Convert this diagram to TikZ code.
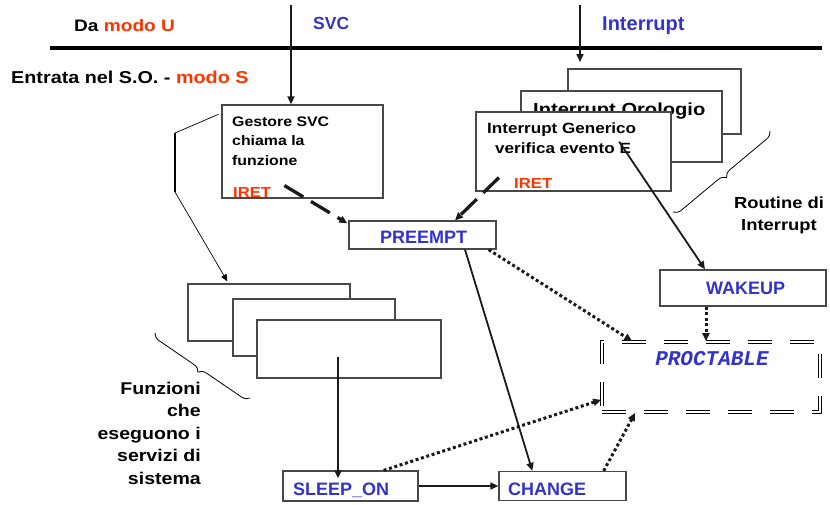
\documentclass[tikz,border=0pt]{standalone}
\usepackage{fontspec}
\setmainfont{Liberation Sans}
\newfontfamily\widesf[FakeStretch=1.15]{Liberation Sans}
\newfontfamily\codett{Liberation Mono}
\usetikzlibrary{arrows.meta,calc,decorations.pathreplacing}
\definecolor{sysblue}{HTML}{3333CC}
\definecolor{sysred}{HTML}{FF3300}
\definecolor{sysink}{HTML}{1A1A1A}
\tikzset{
  bx/.style={draw=sysink!80, line width=1.3pt, fill=white, inner sep=0pt},
  wt/.style={font=\widesf\bfseries\fontsize{#1}{#1}\selectfont, inner sep=0pt, anchor=base west},
  blt/.style={font=\bfseries\fontsize{#1}{#1}\selectfont, text=sysblue, inner sep=0pt, anchor=base west},
  blt/.default=18,
  arr/.style={-{Triangle[length=8pt,width=7pt]}, line width=1.8pt, color=sysink},
  dsh/.style={arr, line width=3.3pt, dash pattern=on 22pt off 9pt},
  dot/.style={arr, line width=3pt, dash pattern=on 3pt off 2.6pt},
  brc/.style={decorate, decoration={brace, amplitude=8pt, mirror}, line width=0.8pt},
  ptab/.style={draw, line width=1.7pt, double, double distance=1.2pt, dash pattern=on 24pt off 18pt, inner sep=0pt},
}
\begin{document}
\begin{tikzpicture}[x=1pt, y=-1pt]
  \useasboundingbox (0,0) rectangle (830,504);
  % user / system boundary
  \coordinate (ml) at (50,48);
  \coordinate (mr) at (822,48);
  \draw[line width=4.5pt] (ml) -- (mr);
  \node[wt=16.6] (damodo) at (74,31.5) {Da \textcolor{sysred}{modo U}};
  \node[blt=17.5] (svc) at (313,29.3) {SVC};
  \node[blt=20] (intr) at (602,30) {Interrupt};
  \node[wt=17.2] (entrata) at (11,83.3) {Entrata nel S.O. - \textcolor{sysred}{modo S}};

  % SVC handler
  \node[bx, minimum width=161pt, minimum height=93pt] (gest) at (302.5,151.5) {};
  \node[wt=13.8] (gest1) at (232,126) {Gestore SVC};
  \node[wt=13.8] (gest2) at (232,145.7) {chiama la};
  \node[wt=13.8] (gest3) at (232,165.7) {funzione};
  \node[wt=14.5, text=sysred] (iret1) at (233,197) {IRET};

  % interrupt routines
  \node[bx, minimum width=173pt, minimum height=65pt] (intc) at (654.5,101.5) {};
  \node[bx, minimum width=201pt, minimum height=71pt] (intb) at (621.5,126.5) {};
  \node[wt=17.5] (orol) at (533,115) {Interrupt Orologio};
  \node[bx, minimum width=195pt, minimum height=79pt] (inta) at (573.5,151.5) {};
  \node[wt=14.85] (gener) at (487,133) {Interrupt Generico};
  \node[wt=14.85] (verif) at (495,153) {verifica evento E};
  \node[wt=14.5, text=sysred] (iret2) at (514,188) {IRET};

  % kernel routines
  \node[bx, minimum width=147pt, minimum height=28pt] (preempt) at (422.5,235) {};
  \node[blt] (preempt-t) at (380,243) {PREEMPT};
  \node[bx, minimum width=166pt, minimum height=36pt] (wakeup) at (743,288) {};
  \node[blt] (wakeup-t) at (706,294.5) {WAKEUP};
  \node[ptab, minimum width=218pt, minimum height=70pt] (proc) at (711,377) {};
  \node[font=\codett\bfseries\itshape\fontsize{21}{21}\selectfont, text=sysblue, inner sep=0pt, anchor=base] (proc-t) at (712,365) {PROCTABLE};

  % system functions
  \node[bx, minimum width=162pt, minimum height=57pt] (f1) at (269,312.5) {};
  \node[bx, minimum width=162pt, minimum height=57pt] (f2) at (314,327.5) {};
  \node[bx, minimum width=184pt, minimum height=58pt] (f3) at (349,349) {};
  \node[bx, minimum width=135pt, minimum height=30pt] (sleepon) at (350.5,486) {};
  \node[blt] (sleepon-t) at (293,495) {SLEEP\_ON};
  \node[bx, minimum width=127pt, minimum height=29pt] (change) at (562.5,486) {};
  \node[blt] (change-t) at (508,495) {CHANGE};

  % side notes
  \node[font=\widesf\bfseries\fontsize{16}{22}\selectfont, align=center, inner sep=0pt, anchor=north] (routine) at (779,196.5) {Routine di\\Interrupt};
  \node[font=\widesf\bfseries\fontsize{17}{22.5}\selectfont, align=right, inner sep=0pt, anchor=north east] (funz) at (201,381.5) {Funzioni\\che\\eseguono i\\servizi di\\sistema};
  \coordinate (rb1) at (673,212);
  \coordinate (rb2) at (770,131);
  \draw[brc] (rb1) -- (rb2);
  \coordinate (fb1) at (155,333);
  \coordinate (fb2) at (250,398);
  \draw[brc] (fb1) -- (fb2);

  % entries
  \coordinate (svct) at (291,5);
  \coordinate (intt) at (580,5);
  \coordinate (inte) at (580,62);
  \draw[arr] (svct) -- (svct |- gest.north);
  \draw[arr] (intt) -- (inte);

  % call of the function
  \coordinate (gb1) at (175,133);
  \coordinate (gb2) at (175,192);
  \draw[line width=0.7pt] ([shift={(-3,10)}]gest.north west) -- (gb1);
  \draw[line width=2.2pt] (gb1) -- (gb2);
  \draw[-{Triangle[length=7pt,width=6pt]}, line width=0.7pt] (gb2) -- ([shift={(40,-2)}]f1.north west);

  % returns
  \draw[dsh] ([shift={(13,-6.5)}]iret1.east) -- ([shift={(-1,3)}]preempt.north west);
  \draw[dsh] ([shift={(-15,-5.5)}]iret2.west) -- ([xshift=32.5pt]preempt.north);

  \draw[arr] ([shift={(-12,-6)}]verif.east) -- ([xshift=-38pt]wakeup.north);
  \draw[dot] ([xshift=-37pt]wakeup.south) -- ([xshift=-37pt]wakeup.south |- proc.north);
  \draw[dot] ([xshift=-8pt]preempt.south east) -- ([xshift=31pt]proc.north west);
  \draw[arr] ([xshift=42.5pt]preempt.south) -- ([xshift=34pt]change.north west);
  \draw[arr] ([shift={(-11,8)}]f3.center) -- ([shift={(-11,8)}]f3.center |- sleepon.north);
  \draw[arr] (sleepon.east) -- (change.west);
  \draw[dot] ([xshift=-35pt]sleepon.north east) -- ([yshift=13pt]proc.south west);
  \draw[dot] ([xshift=-23pt]change.north east) -- ([xshift=34pt]proc.south west);
\end{tikzpicture}
\end{document}
